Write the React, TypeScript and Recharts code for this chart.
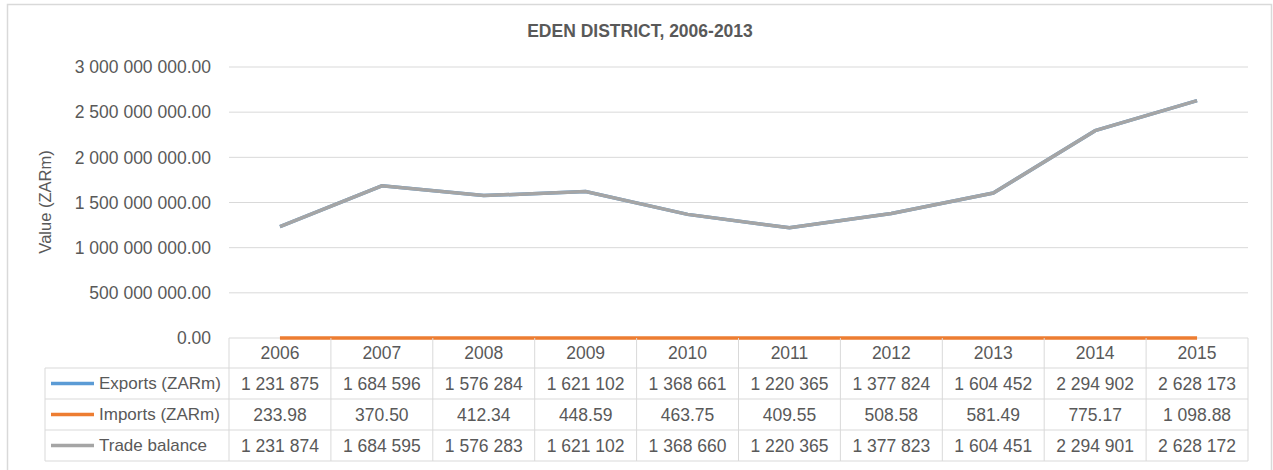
import { LineChart, Line, XAxis, YAxis, CartesianGrid } from "recharts";

const years = ["2006", "2007", "2008", "2009", "2010", "2011", "2012", "2013", "2014", "2015"];
const exportsZar = [1231875000, 1684596000, 1576284000, 1621102000, 1368661000, 1220365000, 1377824000, 1604452000, 2294902000, 2628173000];
const importsZar = [233.98, 370.5, 412.34, 448.59, 463.75, 409.55, 508.58, 581.49, 775.17, 1098.88];
const tradeBalance = [1231874000, 1684595000, 1576283000, 1621102000, 1368660000, 1220365000, 1377823000, 1604451000, 2294901000, 2628172000];
const yTicks = [0, 500000000, 1000000000, 1500000000, 2000000000, 2500000000, 3000000000];

const series = [
  { key: "exports", name: "Exports (ZARm)", color: "#5B9BD5" },
  { key: "imports", name: "Imports (ZARm)", color: "#ED7D31" },
  { key: "trade", name: "Trade balance", color: "#A5A5A5" },
];

const data = years.map((year, i) => ({
  year,
  exports: exportsZar[i],
  imports: importsZar[i],
  trade: tradeBalance[i],
}));

const W = 1273;
const H = 470;
const PLOT_LEFT = 229;
const PLOT_RIGHT = 1248;
const PLOT_TOP = 67;
const PLOT_BOTTOM = 338;
const COL_W = (PLOT_RIGHT - PLOT_LEFT) / years.length;
const LEGEND_LEFT = 45;
const ROW_LINES = [368, 399, 430, 461];
const TEXT = "#595959";
const BORDER = "#D9D9D9";
const FONT = "'Liberation Sans', Arial, sans-serif";
const CELL_FONT = 17.5;

const groupSpace = (s: string) => s.replace(/\B(?=(\d{3})+(?!\d))/g, " ");
const fmtAxis = (v: number) => groupSpace(Math.round(v).toString()) + ".00";
const fmtThousands = (v: number) => groupSpace(Math.round(v / 1000).toString());
const fmtDec = (v: number) => {
  const [a, b] = v.toFixed(2).split(".");
  return groupSpace(a) + "." + b;
};

const rowText = (i: number) => [fmtThousands(exportsZar[i]), fmtDec(importsZar[i]), fmtThousands(tradeBalance[i])];

function TableTick(props: any) {
  const { x, y, payload, index } = props;
  const top = y;
  const left = x - COL_W / 2;
  const right = x + COL_W / 2;
  const vals = rowText(index);
  return (
    <g fontFamily={FONT}>
      {index === 0 && (
        <g>
          {ROW_LINES.map((ly) => (
            <line key={ly} x1={LEGEND_LEFT} x2={PLOT_RIGHT} y1={ly} y2={ly} stroke={BORDER} />
          ))}
          <line x1={LEGEND_LEFT} x2={LEGEND_LEFT} y1={ROW_LINES[0]} y2={ROW_LINES[3]} stroke={BORDER} />
          {series.map((s, r) => {
            const cy = (ROW_LINES[r] + ROW_LINES[r + 1]) / 2;
            return (
              <g key={s.key}>
                <line x1={51} x2={94} y1={cy} y2={cy} stroke={s.color} strokeWidth={3.5} />
                <text x={99} y={cy} dy="0.35em" fontSize={17} fill={TEXT}>
                  {s.name}
                </text>
              </g>
            );
          })}
        </g>
      )}
      <line x1={left} x2={left} y1={top} y2={ROW_LINES[3]} stroke={BORDER} />
      {index === years.length - 1 && <line x1={right} x2={right} y1={top} y2={ROW_LINES[3]} stroke={BORDER} />}
      <text x={x} y={(top + ROW_LINES[0]) / 2} dy="0.35em" textAnchor="middle" fontSize={CELL_FONT} fill={TEXT}>
        {payload.value}
      </text>
      {vals.map((v, r) => (
        <text
          key={r}
          x={x}
          y={(ROW_LINES[r] + ROW_LINES[r + 1]) / 2}
          dy="0.35em"
          textAnchor="middle"
          fontSize={CELL_FONT}
          fill={TEXT}
        >
          {v}
        </text>
      ))}
    </g>
  );
}

export default function App() {
  return (
    <div style={{ position: "absolute", left: 0, top: 0, width: W, height: H, background: "#fff", overflow: "hidden" }}>
      <svg width={W} height={H} style={{ position: "absolute", left: 0, top: 0 }}>
        <rect x={7.5} y={4.5} width={1264} height={500} fill="#fff" stroke={BORDER} strokeWidth={1.5} />
      </svg>
      <div style={{ position: "absolute", left: 0, top: 0 }}>
        <LineChart
          width={W}
          height={H}
          data={data}
          margin={{ top: PLOT_TOP, right: W - PLOT_RIGHT, left: 0, bottom: 0 }}
        >
          <text x={640} y={31} dy="0.35em" textAnchor="middle" fontFamily={FONT} fontSize={17.5} fontWeight="bold" fill={TEXT}>
            EDEN DISTRICT, 2006-2013
          </text>
          <text
            x={45}
            y={202}
            dy="0.35em"
            textAnchor="middle"
            transform="rotate(-90 45 202)"
            fontFamily={FONT}
            fontSize={16.5}
            fill={TEXT}
          >
            Value (ZARm)
          </text>
          <CartesianGrid vertical={false} stroke="#D9D9D9" />
          <YAxis
            width={PLOT_LEFT}
            domain={[0, 3000000000]}
            ticks={yTicks}
            tickFormatter={fmtAxis}
            axisLine={false}
            tickLine={false}
            tickMargin={12}
            tick={{ fontSize: 17.5, fill: TEXT, fontFamily: FONT }}
          />
          <XAxis
            dataKey="year"
            height={H - PLOT_BOTTOM}
            padding={{ left: COL_W / 2, right: COL_W / 2 }}
            axisLine={false}
            tickLine={false}
            tickSize={0}
            tickMargin={0}
            interval={0}
            tick={<TableTick />}
          />
          {series.map((s) => (
            <Line
              key={s.key}
              type="linear"
              dataKey={s.key}
              name={s.name}
              stroke={s.color}
              strokeWidth={3.5}
              dot={false}
              isAnimationActive={false}
            />
          ))}
        </LineChart>
      </div>
    </div>
  );
}
